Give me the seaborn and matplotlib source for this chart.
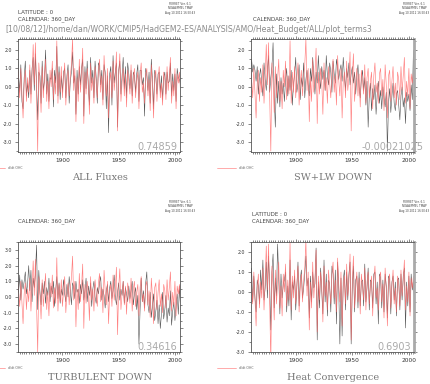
import numpy as np
import pandas as pd
import seaborn as sns
import matplotlib.pyplot as plt
from matplotlib.ticker import MultipleLocator, FormatStrFormatter

years = np.arange(1860, 2006)

# d/dt OHC (red line, same in every panel)
ohc = [1.3, 0.4, -0.6, 1.0, -0.4, -1.7, 0.2, 0.9, -0.8, 0.5,
       -0.3, 1.2, -0.9, 0.6, 2.3, 0.1, 2.4, -0.5, -3.5, 1.3,
       0.2, -1.4, 1.1, -0.6, 0.5, 1.5, -0.8, 0.3, -1.2, 0.9,
       0.0, 1.4, -0.7, 0.6, -0.4, 2.5, -0.9, 0.8, -0.3, 1.1,
       -0.6, 0.4, 1.3, -1.0, 0.2, 0.9, -0.5, 0.6, 1.2, 2.6,
       -0.2, 1.0, -1.9, 0.5, -0.8, 1.5, -0.3, 0.7, 2.1, -2.0,
       0.8, -0.4, 1.0, 0.3, -1.5, 1.3, -0.2, 0.5, -0.9, 1.1,
       0.2, -0.6, 0.9, 1.5, -0.3, 0.6, -1.0, 1.7, 0.4, -0.5,
       1.0, -1.7, 0.3, 0.8, -0.6, 1.4, -0.2, 0.5, 1.9, -2.4,
       0.6, 1.8, -0.8, 0.2, 1.0, -0.5, 0.7, -1.1, 0.9, 0.3,
       -0.4, 1.2, -0.9, 0.5, 1.0, -0.6, 0.3, 0.8, -1.2, 0.6,
       1.3, -0.3, 0.2, -0.9, 0.7, 1.0, -0.5, 0.4, -1.3, 1.2,
       0.1, -1.7, 0.6, 0.9, -0.8, 0.3, 1.1, -0.6, 0.2, -1.0,
       0.8, 0.4, -0.7, 1.1, -0.2, 0.6, 1.6, -0.9, 0.3, -0.5,
       1.0, -1.2, 0.7, 0.2, 0.8, -0.3]

all_fluxes = [2.0, 0.6, -0.3, 1.2, -0.8, -1.2, 0.5, 1.4, -0.5, 0.2,
              -0.6, 0.9, -0.4, 1.0, 1.6, -0.2, 1.8, 0.1, -1.8, 0.8,
              0.6, -0.9, 1.4, -0.2, 0.3, 2.0, -0.4, 0.7, -0.8, 0.5,
              0.4, 1.0, -1.1, 0.9, 0.2, 2.2, -0.5, 1.1, -0.7, 0.6,
              -0.3, 0.8, 1.0, -0.6, 0.6, 1.2, -0.9, 0.3, 0.8, 1.9,
              0.2, 0.6, -1.5, 0.9, -0.4, 1.1, 0.1, 1.0, 1.5, -1.6,
              1.1, -0.1, 1.4, 0.0, -1.0, 1.6, 0.2, 0.9, -0.6, 1.4,
              0.5, -0.9, 1.3, 1.1, 0.1, 0.9, -0.7, 1.2, 0.8, -1.2,
              0.6, -2.5, 0.7, 1.1, -1.0, 1.7, 0.2, 0.8, 1.3, -2.2,
              0.9, 1.4, -0.4, 0.6, 1.6, -0.1, 1.1, -0.6, 1.3, 0.7,
              -0.1, 0.9, -0.5, 0.8, 0.6, -0.3, 0.7, 1.2, -0.8, 0.9,
              0.9, 0.1, 0.5, -1.6, 1.0, 0.6, -0.2, 0.8, -0.9, 1.5,
              0.4, -1.2, 0.9, 0.5, -0.4, 0.7, 0.8, -0.3, 0.6, -0.7,
              0.5, 0.8, -0.4, 0.8, 0.2, 0.3, 1.3, -0.5, 0.7, -0.2,
              0.7, -0.8, 1.0, 0.5, 0.4, 0.1]

swlw_down = [0.5, 1.5, 0.8, 1.2, 0.9, 0.3, 1.1, -0.4, 0.6, 1.0,
             0.2, -0.5, 1.3, 0.4, -0.2, 0.9, 1.7, -0.3, 0.5, 1.1,
             2.4, -0.6, -2.2, 0.7, -0.9, 0.3, -1.1, 0.5, -0.4, 0.2,
             -0.8, 0.4, 1.0, -0.5, 0.6, -0.2, 0.9, -1.0, 0.1, 0.7,
             1.6, -0.3, 0.2, 1.2, -0.7, 0.5, 0.0, 1.3, -0.6, 0.4,
             0.9, 0.1, -0.5, 1.0, 0.3, 1.6, 0.6, -0.4, 0.8, 0.2,
             1.7, 0.5, -0.1, 1.1, 0.4, 0.9, -0.2, 1.7, 0.6, 0.1,
             1.3, 0.8, -0.3, 1.4, 0.7, 0.2, 1.5, 1.0, 0.4, 0.9,
             1.2, 0.3, 1.6, 0.6, -0.2, 1.0, 0.5, 1.3, 0.1, 0.7,
             1.1, 0.2, 0.8, -0.4, 0.6, 1.2, 0.0, -0.6, 0.4, 0.9,
             -0.2, 0.5, -1.0, 0.3, -2.2, -0.5, 0.2, -1.3, -0.1, -0.7,
             0.1, -1.5, -0.4, 0.3, -0.9, -0.2, -1.2, 0.0, -0.6, -1.1,
             -0.3, -3.5, -0.8, -0.1, -1.4, -0.5, 0.2, -0.9, -1.3, -0.4,
             -0.2, -1.0, -1.8, -0.5, 0.0, -1.1, -0.6, -2.0, -0.3, -0.8,
             -0.4, -1.3, 0.1, -0.7, 2.0, -0.5]

turbulent_down = [1.2, 0.3, 1.4, -0.2, 1.1, 0.5, 1.0, 1.6, 0.2, 0.8,
                  2.0, 0.4, 1.7, -0.3, 1.2, 0.6, 1.5, 3.3, -0.8, 1.7,
                  0.3, -0.5, 0.9, 0.2, 1.0, -0.4, 0.6, 0.1, 1.2, -0.3,
                  0.7, 0.2, 1.0, -0.6, 0.4, 1.3, -0.1, 0.9, -0.4, 0.5,
                  0.1, 1.1, 0.2, -0.3, 0.8, 0.0, 1.3, 0.4, -0.5, 0.9,
                  0.6, -0.1, 1.0, 0.3, 0.5, -0.4, 0.8, 0.2, 1.1, -0.2,
                  0.4, 1.2, -0.3, 0.7, 0.1, 0.9, -0.6, 0.5, 1.0, 0.0,
                  -0.4, 0.6, 0.2, 0.9, 1.3, -0.2, 0.5, 0.1, -0.7, 0.4,
                  0.8, -0.3, 0.6, 1.0, -0.1, 0.4, 1.4, 0.0, -0.5, 0.3,
                  0.9, -0.2, 0.5, 0.1, 1.0, -0.4, 0.6, 0.2, -0.3, 0.7,
                  -0.1, 0.4, 1.0, -0.5, 0.2, 0.6, -0.8, 0.1, -3.0, -0.9,
                  1.2, -0.3, 0.4, -0.7, 0.9, 1.6, -0.5, -1.0, 0.3, -1.3,
                  -0.6, 0.2, -1.5, -0.9, -0.2, -1.7, -0.5, -2.0, -1.1, 0.3,
                  -1.4, -0.8, 0.1, -1.6, -0.7, -1.2, 0.4, -1.8, -0.9, -0.3,
                  -1.5, -0.6, 0.2, -1.1, 0.7, -0.8]

heat_convergence = [0.3, 1.2, -0.5, 0.8, -0.3, -1.0, 0.6, 0.3, -0.6, 1.1,
                    0.1, 1.6, -0.4, 0.2, 1.5, -0.3, 1.8, 0.4, -1.9, 1.0,
                    1.9, -0.8, 0.7, -0.2, 2.4, 0.6, -1.1, 0.9, -0.3, 0.4,
                    0.6, 1.0, -1.0, 0.3, -0.7, 1.6, -1.4, 0.5, 0.1, 0.8,
                    -0.9, 0.2, 1.5, -0.7, 0.6, 1.1, -0.3, 0.2, 0.9, 1.8,
                    0.3, 0.7, -1.3, 0.8, -0.5, 1.0, 0.2, 0.4, 2.2, -2.4,
                    0.5, -0.8, 1.2, 0.1, -1.1, 1.6, -0.5, 0.9, -1.2, 0.6,
                    0.4, -1.0, 1.3, 0.9, -0.6, 1.1, -1.6, 1.5, 0.2, -2.6,
                    0.7, -2.2, 0.6, 1.1, -0.9, 1.0, -0.4, 0.9, 1.5, -2.6,
                    0.3, 1.3, -1.0, 0.6, 0.8, -0.8, 1.0, -0.7, 0.5, 0.6,
                    -0.7, 1.4, -0.5, 0.2, 1.2, -0.9, 0.6, 0.5, -0.8, 0.9,
                    1.0, -0.6, 0.5, -1.6, 0.9, 0.7, -0.8, 0.6, -1.0, 0.9,
                    0.3, -1.3, 0.8, 0.6, -1.1, 0.5, 0.8, -0.4, 0.5, -1.2,
                    0.6, 0.7, -0.9, 0.9, -0.4, 0.8, 1.2, -1.8, 0.5, -0.7,
                    0.8, -1.0, 0.9, 0.1, 0.6, -0.5]

titles = ["ALL Fluxes", "SW+LW DOWN", "TURBULENT DOWN", "Heat Convergence"]
correlations = ["0.74859", "-0.00021025", "0.34616", "0.6903"]
terms = [all_fluxes, swlw_down, turbulent_down, heat_convergence]
ylims = [(-3.55, 2.6), (-3.55, 2.6), (-3.5, 3.5), (-3.0, 2.5)]
path = "[10/08/12]/home/dan/WORK/CMIP5/HadGEM2-ES/ANALYSIS/AMO/Heat_Budget/ALL/plot_terms3"

sns.set_style("ticks")
plt.rcParams['font.family'] = ['DejaVu Sans']

W, H = 431, 384
fig = plt.figure(figsize=(W / 100, H / 100), dpi=100)

def fx(px):
    return px / W

def fy(py):
    return 1 - py / H

# pixel boxes: left, top, right, bottom
boxes = [(18, 39, 180, 152), (251, 39, 414, 152),
         (18, 242, 180, 352), (251, 242, 414, 352)]

red = "#ff6a6a"
dark = "#555555"
axcol = "#555555"

for i, (l, t, r, b) in enumerate(boxes):
    ax = fig.add_axes([fx(l), fy(b), fx(r - l), (b - t) / H])
    df = pd.DataFrame({"year": years, "term": terms[i], "ohc": ohc})
    sns.lineplot(data=df, x="year", y="term", ax=ax, color=dark, linewidth=0.4)
    sns.lineplot(data=df, x="year", y="ohc", ax=ax, color=red, linewidth=0.45, alpha=0.85)
    ax.set_xlim(1860.5, 2004.5)
    ax.set_ylim(*ylims[i])
    ax.set_xlabel("")
    ax.set_ylabel("")
    ax.xaxis.set_major_locator(MultipleLocator(50))
    ax.xaxis.set_minor_locator(MultipleLocator(2))
    ax.yaxis.set_major_locator(MultipleLocator(1.0))
    ax.yaxis.set_minor_locator(MultipleLocator(0.5))
    ax.yaxis.set_major_formatter(FormatStrFormatter('%.1f'))
    ax.tick_params(axis="both", which="both", direction="out", color=axcol,
                   width=0.5, top=True, right=True, labelcolor="#333333")
    ax.tick_params(axis="both", which="major", length=2.5)
    ax.tick_params(axis="both", which="minor", length=1.5)
    ax.tick_params(axis="x", labelsize=4.2, pad=1.5)
    ax.tick_params(axis="y", labelsize=3.4, pad=1.5)
    for s in ax.spines.values():
        s.set_color(axcol)
        s.set_linewidth(0.6)
    if i in (1, 3):
        ax.spines["right"].set_color("#aaaaaa")
        ax.spines["right"].set_linewidth(2.0)

    # correlation number
    fig.text(fx(r - 3 if i != 1 else 424), fy(b - 5), correlations[i],
             ha="right", va="center", fontsize=7, color="#aaaaaa")
    # panel title
    fig.text(fx((l + r) / 2 + 1), fy(b + 25), titles[i], ha="center", va="center",
             fontsize=7, color="#777777", family="DejaVu Serif")
    # legend line
    lx0 = 217 if l > 200 else -2
    lx1 = 236 if l > 200 else 5
    ly = b + 16
    fig.add_artist(plt.Line2D([fx(lx0), fx(lx1)], [fy(ly), fy(ly)],
                              color=red, linewidth=0.5, alpha=0.8))
    fig.text(fx(lx1 + 3), fy(ly), "d/dt OHC", ha="left", va="center",
             fontsize=2.3, color="#666666")
    # FERRET stamp
    sx = 180 if l < 200 else 414
    sy = 2 if t < 100 else 200
    fig.text(fx(sx), fy(sy), "FERRET Ver. 6.1\nNOAA/PMEL TMAP\nAug 10 2012 16:50:43",
             ha="center", va="top", fontsize=2.0, color="#444444", linespacing=1.1)

# header text
hdr = dict(fontsize=4.0, color="#444444", ha="left", va="center")
fig.text(fx(18), fy(13), "LATITUDE : 0", **hdr)
fig.text(fx(18), fy(19.5), "CALENDAR: 360_DAY", **hdr)
fig.text(fx(253), fy(19.5), "CALENDAR: 360_DAY", **hdr)
fig.text(fx(18), fy(221), "CALENDAR: 360_DAY", **hdr)
fig.text(fx(252), fy(214), "LATITUDE : 0", **hdr)
fig.text(fx(252), fy(221), "CALENDAR: 360_DAY", **hdr)

fig.text(fx(5), fy(30), path, ha="left", va="center", fontsize=5.6,
         color="#8a8a8a")

fig.savefig("out.png", dpi=100)
